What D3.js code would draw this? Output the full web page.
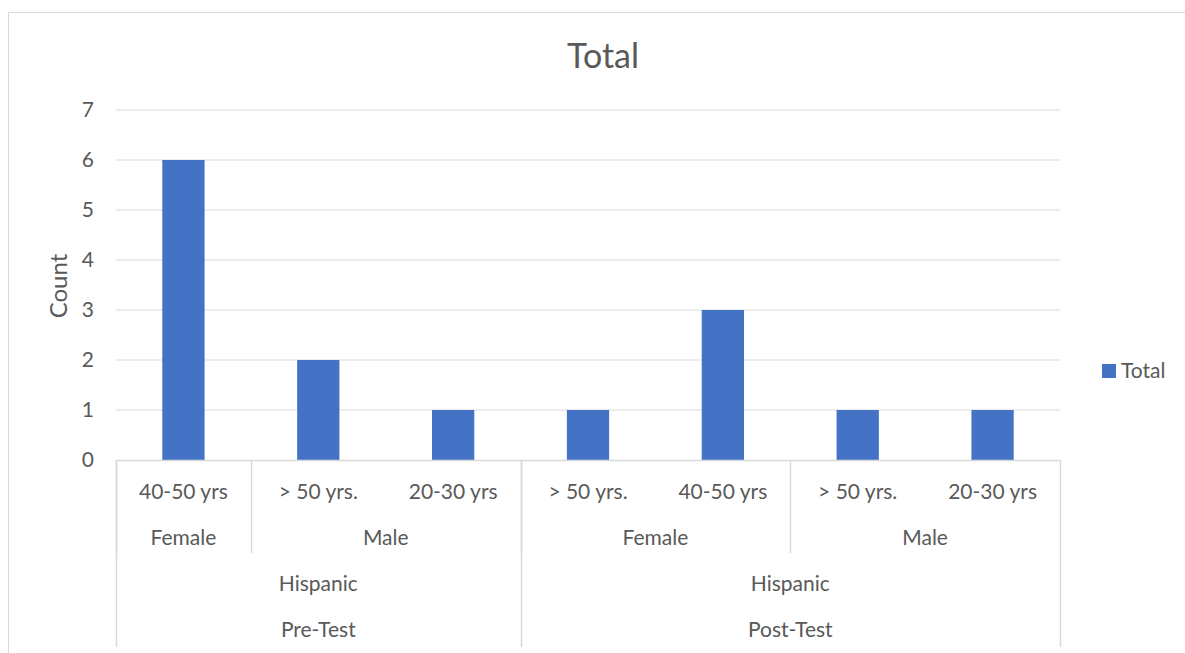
<!DOCTYPE html>
<html><head><meta charset="utf-8">
<script src="https://cdn.jsdelivr.net/npm/d3@7/dist/d3.min.js"></script>
<style>body{margin:0;background:#fff}svg{display:block}text{font-family:Lato,"Open Sans",sans-serif;fill:#595959}</style>
</head><body><svg id="c" width="1185" height="653"></svg>
<script>
const ageLabels = ["40-50 yrs", "> 50 yrs.", "20-30 yrs", "> 50 yrs.", "40-50 yrs", "> 50 yrs.", "20-30 yrs"];
const values = [6, 2, 1, 1, 3, 1, 1];
const genderGroups = [{label:"Female", start:0, end:1}, {label:"Male", start:1, end:3}, {label:"Female", start:3, end:5}, {label:"Male", start:5, end:7}];
const ethnicityGroups = [{label:"Hispanic", start:0, end:3}, {label:"Hispanic", start:3, end:7}];
const testGroups = [{label:"Pre-Test", start:0, end:3}, {label:"Post-Test", start:3, end:7}];
const yTicks = [0,1,2,3,4,5,6,7];

const svg = d3.select("#c");
const L = 116, R = 1060, T = 110, B = 460;
const idx = d3.range(values.length);
const x = d3.scaleBand().domain(idx).range([L, R]).padding(0);
const y = d3.scaleLinear().domain([0, 7]).range([B, T]);
const grid = "#d9d9d9";
const fs = "21px";

// outer border
svg.append("rect").attr("x", 8.5).attr("y", 12.5).attr("width", 1190).attr("height", 700)
  .attr("fill", "none").attr("stroke", grid).attr("stroke-width", 1);

// gridlines
svg.append("g").selectAll("line").data(yTicks.filter(d => d > 0)).join("line")
  .attr("x1", L).attr("x2", R).attr("y1", d => y(d)).attr("y2", d => y(d))
  .attr("stroke", grid).attr("stroke-width", 1);

// y-axis labels
const yAxis = d3.axisLeft(y).tickValues(yTicks).tickFormat(d3.format("d")).tickSize(0).tickPadding(22);
const ga = svg.append("g").attr("transform", `translate(${L},0)`).call(yAxis);
ga.select(".domain").remove();
ga.selectAll("text").style("font-size", fs).attr("fill", "#595959").style("font-family", "Lato, sans-serif");

// bars
const bw = x.step() / 3.19;
svg.append("g").selectAll("rect").data(idx).join("rect")
  .attr("x", i => x(i) + x.step()/2 - bw/2).attr("width", bw)
  .attr("y", i => y(values[i])).attr("height", i => y(0) - y(values[i]))
  .attr("fill", "#4472c4");

// baseline
svg.append("line").attr("x1", L).attr("x2", R).attr("y1", B + 0.5).attr("y2", B + 0.5).attr("stroke", grid).attr("stroke-width", 1.5);

// category label rows
const rowY = [492, 538, 584, 630];
svg.append("g").selectAll("text").data(idx).join("text")
  .attr("x", i => x(i) + x.step()/2).attr("y", rowY[0]).attr("dy", "0.35em")
  .attr("text-anchor", "middle").style("font-size", fs).text(i => ageLabels[i]);
function groupRow(groups, row) {
  svg.append("g").selectAll("text").data(groups).join("text")
    .attr("x", g => (x(g.start) + (g.end < values.length ? x(g.end) : R)) / 2)
    .attr("y", rowY[row]).attr("dy", "0.35em").attr("text-anchor", "middle")
    .style("font-size", fs).text(g => g.label);
}
groupRow(genderGroups, 1);
groupRow(ethnicityGroups, 2);
groupRow(testGroups, 3);

// dividers
const posOf = i => i < values.length ? x(i) : R;
const dividers = [];
genderGroups.forEach(g => { dividers.push({x: posOf(g.start), bottom: 553}); });
testGroups.forEach(g => { dividers.push({x: posOf(g.start), bottom: 647}); });
dividers.push({x: R, bottom: 647});
svg.append("g").selectAll("line").data(dividers).join("line")
  .attr("x1", d => Math.round(d.x) + 0.5).attr("x2", d => Math.round(d.x) + 0.5)
  .attr("y1", B).attr("y2", d => d.bottom).attr("stroke", grid).attr("stroke-width", 1.5);

// title
svg.append("text").attr("x", 603).attr("y", 56).attr("dy", "0.35em").attr("text-anchor", "middle")
  .style("font-size", "34px").text("Total");

// y axis title
svg.append("text").attr("transform", "translate(59,286) rotate(-90)").attr("dy", "0.35em")
  .attr("text-anchor", "middle").style("font-size", "24px").text("Count");

// legend
svg.append("rect").attr("x", 1102).attr("y", 364).attr("width", 14).attr("height", 14).attr("fill", "#4472c4");
svg.append("text").attr("x", 1121).attr("y", 371).attr("dy", "0.35em").style("font-size", fs).text("Total");
</script></body></html>
